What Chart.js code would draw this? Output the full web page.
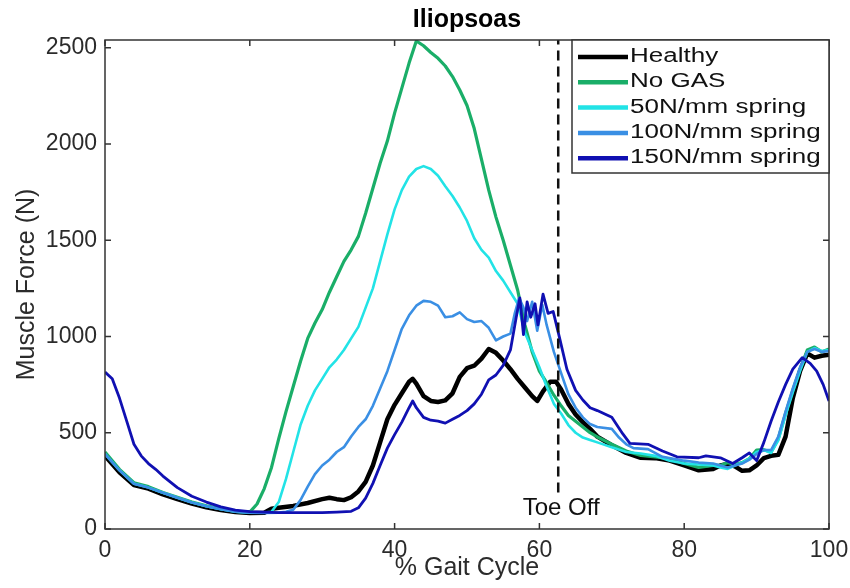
<!DOCTYPE html>
<html>
<head>
<meta charset="utf-8">
<script src="https://cdn.jsdelivr.net/npm/chart.js@4.4.0/dist/chart.umd.min.js"></script>
<style>
  body { margin: 0; background: #fff; }
</style>
</head>
<body>
<canvas id="graficoIliopsoas" width="850" height="588"></canvas>
<script>
// valores (% do ciclo de marcha -> força em N)
const healthyX = [0, 2, 4, 6, 8, 10, 12, 14, 16, 18, 20, 22, 23, 24, 26, 28, 30, 31, 32, 33, 34, 35, 36, 37, 38, 39, 40, 41, 42, 42.5, 43, 44, 45, 46, 47, 48, 49, 50, 51, 52, 53, 54, 55, 56, 57, 58, 59, 59.7, 60.5, 61.5, 62.3, 63, 64, 65, 66, 67, 68, 70, 72, 74, 76, 78, 80, 82, 84, 85, 86, 87, 88, 89, 90, 91, 92, 93, 94, 95, 96, 97, 98, 99, 100];
const healthyY = [380, 295, 228, 210, 180, 155, 132, 113, 98, 88, 83, 84, 105, 110, 120, 135, 155, 162, 155, 150, 165, 195, 245, 330, 450, 570, 645, 705, 765, 780, 755, 690, 665, 660, 668, 705, 790, 835, 848, 885, 935, 915, 875, 830, 780, 735, 690, 665, 715, 765, 765, 725, 650, 595, 555, 520, 480, 435, 395, 370, 368, 355, 330, 305, 312, 330, 338, 325, 302, 305, 330, 368, 380, 385, 480, 680, 820, 912, 890, 900, 905];

const noGasX = [0, 2, 4, 6, 8, 10, 12, 14, 16, 18, 20, 21, 22, 23, 24, 25, 26, 27, 28, 29, 30, 31, 32, 33, 34, 35, 36, 37, 38, 39, 40, 41, 42, 43, 44, 45, 46, 47, 48, 49, 50, 51, 52, 53, 54, 55, 56, 57, 58, 59, 60, 61, 62, 63, 64, 65, 66, 67, 68, 70, 72, 74, 76, 78, 80, 82, 84, 85, 86, 87, 88, 89, 90, 91, 92, 93, 94, 95, 96, 97, 98, 99, 100];
const noGasY = [400, 310, 240, 220, 190, 165, 140, 120, 105, 92, 88, 130, 210, 320, 470, 610, 740, 870, 990, 1070, 1140, 1230, 1310, 1390, 1450, 1520, 1640, 1770, 1900, 2015, 2160, 2290, 2420, 2535, 2510, 2475, 2445, 2405, 2350, 2280, 2200, 2080, 1920, 1760, 1620, 1500, 1370, 1240, 1060, 920, 820, 760, 695, 640, 590, 560, 530, 500, 478, 440, 405, 382, 375, 365, 340, 320, 330, 330, 345, 335, 345, 365, 410, 412, 400, 470, 600, 720, 830, 930, 945, 920, 935];

const mola50X = [0, 2, 4, 6, 8, 10, 12, 14, 16, 18, 20, 21, 22, 23, 24, 25, 26, 27, 28, 29, 30, 31, 32, 33, 34, 35, 36, 37, 38, 39, 40, 41, 42, 43, 44, 45, 46, 47, 48, 49, 50, 51, 52, 53, 54, 55, 56, 57, 58, 59, 60, 61, 62, 63, 64, 65, 66, 67, 68, 70, 72, 74, 76, 78, 80, 82, 84, 85, 86, 87, 88, 89, 90, 91, 92, 93, 94, 95, 96, 97, 98, 99, 100];
const mola50Y = [390, 305, 235, 215, 188, 162, 138, 118, 103, 90, 85, 85, 85, 90, 140, 260, 400, 540, 640, 720, 780, 840, 880, 930, 990, 1050, 1150, 1250, 1390, 1530, 1660, 1760, 1830, 1870, 1885, 1870, 1835, 1780, 1730, 1670, 1600, 1510, 1450, 1410, 1340, 1290, 1230, 1170, 1020, 930, 840, 740, 650, 600, 540, 500, 475, 462, 450, 425, 400, 392, 380, 355, 340, 335, 330, 320, 312, 330, 345, 365, 400, 410, 395, 460, 590, 710, 820, 920, 940, 925, 930];

const mola100X = [0, 2, 4, 6, 8, 10, 12, 14, 16, 18, 20, 22, 24, 25, 26, 27, 28, 29, 30, 31, 32, 33, 34, 35, 36, 37, 38, 39, 40, 41, 42, 43, 44, 45, 46, 47, 48, 49, 50, 51, 52, 53, 54, 55, 56, 56.6, 57.2, 57.8, 58.3, 59, 59.7, 60.4, 61, 62, 63, 64, 65, 66, 67, 68, 70, 71, 72, 73, 75, 77, 80, 82, 84, 86, 88, 89, 90, 91, 92, 93, 94, 95, 96, 97, 98, 99, 100];
const mola100Y = [390, 305, 235, 215, 188, 162, 138, 118, 103, 90, 85, 83, 85, 90, 100, 150, 220, 285, 330, 360, 400, 425, 480, 530, 570, 640, 730, 820, 930, 1040, 1110, 1160, 1185, 1180, 1160, 1100, 1105, 1125, 1090, 1075, 1080, 1045, 980, 1000, 1015, 1120, 1200, 1150, 1080, 1180, 1030, 1165, 1060, 920, 810, 700, 630, 580, 545, 530, 520, 475, 440, 420, 415, 375, 355, 345, 340, 320, 340, 360, 390, 410, 410, 480, 610, 730, 840, 920, 935, 920, 925];

const mola150X = [0, 1, 2, 3, 4, 5, 6, 7, 8, 10, 12, 14, 16, 18, 20, 22, 24, 26, 28, 30, 32, 34, 35, 36, 37, 38, 39, 40, 41, 42, 42.5, 43, 44, 45, 46, 47, 48, 49, 50, 51, 52, 53, 54, 55, 56, 56.8, 57.3, 57.8, 58.3, 58.8, 59.4, 59.8, 60.5, 61.2, 61.9, 62.8, 63.8, 65, 66, 67, 68, 70, 71.5, 72.5, 75, 77, 79, 82, 83, 85, 86.7, 88, 89, 90, 91, 92, 93, 94, 95, 96.3, 97.4, 98.3, 99.2, 100];
const mola150Y = [815, 780, 680, 560, 440, 380, 340, 310, 275, 215, 170, 140, 115, 98, 90, 88, 85, 85, 85, 85, 88, 92, 110, 160, 237, 330, 420, 490, 555, 630, 665, 630, 580, 565, 560, 550, 570, 590, 615, 650, 700, 775, 800, 850, 930, 1100, 1200, 1010, 1180, 1100, 1170, 1060, 1220, 1120, 1130, 990, 830, 720, 670, 630, 615, 580, 495, 445, 440, 405, 375, 370, 380, 370, 340, 370, 395, 355, 450, 560, 660, 750, 830, 890, 860, 820, 750, 665];

const toeOffX = 62.6;
const toeOffY = [190, 2540];

const ticksX = [0, 20, 40, 60, 80, 100];
const ticksY = [0, 500, 1000, 1500, 2000, 2500];

const legendas = ['Healthy', 'No GAS', '50N/mm spring', '100N/mm spring', '150N/mm spring'];
const cores = ['#000000', '#1aae68', '#22e3e6', '#3a8fe4', '#1010b2'];
const espessuras = [4.5, 3.2, 2.6, 2.6, 2.8];

function juntaPontos(xs, ys) {
    return xs.map((x, i) => ({ x: x, y: ys[i] }));
}

const series = [
    juntaPontos(healthyX, healthyY),
    juntaPontos(noGasX, noGasY),
    juntaPontos(mola50X, mola50Y),
    juntaPontos(mola100X, mola100Y),
    juntaPontos(mola150X, mola150Y)
];

const datasets = series.map((dados, i) => ({
    label: legendas[i],
    data: dados,
    borderColor: cores[i],
    borderWidth: espessuras[i],
    pointRadius: 0,
    tension: 0,
    fill: false,
    borderJoinStyle: 'round',
    order: 10 - i   // a última série fica por cima, como no original
}));

datasets.push({
    label: 'Toe Off',
    data: toeOffY.map(y => ({ x: toeOffX, y: y })),
    borderColor: '#111111',
    borderWidth: 2.5,
    borderDash: [10, 6],
    pointRadius: 0,
    order: 0
});

// caixa dos eixos, ticks para dentro, título, legenda e texto "Toe Off"
const desenhosExtras = {
    id: 'desenhosExtras',
    afterDraw(chart) {
        const ctx = chart.ctx;
        const area = chart.chartArea;
        const sx = chart.scales.x;
        const sy = chart.scales.y;

        ctx.save();
        ctx.strokeStyle = '#333333';
        ctx.lineWidth = 1.5;
        ctx.strokeRect(area.left, area.top, area.right - area.left, area.bottom - area.top);

        ctx.beginPath();
        ticksX.forEach(v => {
            const px = sx.getPixelForValue(v);
            ctx.moveTo(px, area.bottom); ctx.lineTo(px, area.bottom - 6);
            ctx.moveTo(px, area.top); ctx.lineTo(px, area.top + 6);
        });
        ticksY.forEach(v => {
            const py = sy.getPixelForValue(v);
            ctx.moveTo(area.left, py); ctx.lineTo(area.left + 6, py);
            ctx.moveTo(area.right, py); ctx.lineTo(area.right - 6, py);
        });
        ctx.stroke();

        // título
        ctx.fillStyle = '#000000';
        ctx.font = 'bold 25px "Liberation Sans", Arial, sans-serif';
        ctx.textAlign = 'center';
        ctx.textBaseline = 'alphabetic';
        ctx.fillText('Iliopsoas', (area.left + area.right) / 2, 27);

        // Toe Off
        ctx.fillStyle = '#111111';
        ctx.font = '24px "Liberation Sans", Arial, sans-serif';
        ctx.fillText('Toe Off', sx.getPixelForValue(toeOffX) + 3, 515);

        // legenda
        const lx = 572, ly = area.top, lw = area.right - 572, lh = 133;
        ctx.fillStyle = '#ffffff';
        ctx.fillRect(lx, ly, lw, lh);
        ctx.strokeStyle = '#333333';
        ctx.lineWidth = 1.5;
        ctx.strokeRect(lx, ly, lw, lh);

        ctx.textAlign = 'left';
        ctx.font = '20px "Liberation Sans", Arial, sans-serif';
        legendas.forEach((nome, i) => {
            const base = ly + 22 + i * 25.3;
            ctx.strokeStyle = cores[i];
            ctx.lineWidth = 4.5;
            ctx.beginPath();
            ctx.moveTo(lx + 6, base - 5);
            ctx.lineTo(lx + 56, base - 5);
            ctx.stroke();

            ctx.save();
            ctx.translate(lx + 58, base);
            ctx.scale(1.3, 1);
            ctx.fillStyle = '#111111';
            ctx.fillText(nome, 0, 0);
            ctx.restore();
        });
        ctx.restore();
    }
};

const fonteEixo = '"Liberation Sans", Arial, sans-serif';

const grafico = document.getElementById('graficoIliopsoas');
const graficoIliopsoas = new Chart(grafico, {
    type: 'line',
    data: { datasets: datasets },
    options: {
        responsive: false,
        animation: false,
        layout: { autoPadding: false, padding: { top: 40, right: 21, left: 0, bottom: 0 } },
        plugins: {
            legend: { display: false },
            tooltip: { enabled: false },
            title: { display: false }
        },
        scales: {
            x: {
                type: 'linear',
                min: 0,
                max: 100,
                afterBuildTicks: scale => { scale.ticks = ticksX.map(v => ({ value: v })); },
                afterFit: scale => { scale.height = 59; },
                // marcas invisíveis só para afastar os rótulos (padding 0 não empurra a margem direita)
                grid: { display: true, drawOnChartArea: false, drawTicks: true, tickLength: 8, color: 'rgba(0,0,0,0)' },
                border: { display: false },
                ticks: {
                    padding: 0,
                    color: '#2b2b2b',
                    font: { family: fonteEixo, size: 23 },
                    maxRotation: 0,
                    callback: value => String(value)
                },
                title: {
                    display: true,
                    text: '% Gait Cycle',
                    color: '#2b2b2b',
                    padding: { top: 0, bottom: 5 },
                    font: { family: fonteEixo, size: 25 }
                }
            },
            y: {
                type: 'linear',
                min: 0,
                max: 2540,
                afterBuildTicks: scale => { scale.ticks = ticksY.map(v => ({ value: v })); },
                afterFit: scale => { scale.width = 105; },
                grid: { display: false, drawTicks: false },
                border: { display: false },
                ticks: {
                    padding: 8,
                    color: '#2b2b2b',
                    font: { family: fonteEixo, size: 23 },
                    callback: value => String(value)
                },
                title: {
                    display: true,
                    text: 'Muscle Force (N)',
                    color: '#2b2b2b',
                    padding: { top: 12, bottom: 0 },
                    font: { family: fonteEixo, size: 25 }
                }
            }
        }
    },
    plugins: [desenhosExtras]
});
</script>
</body>
</html>
